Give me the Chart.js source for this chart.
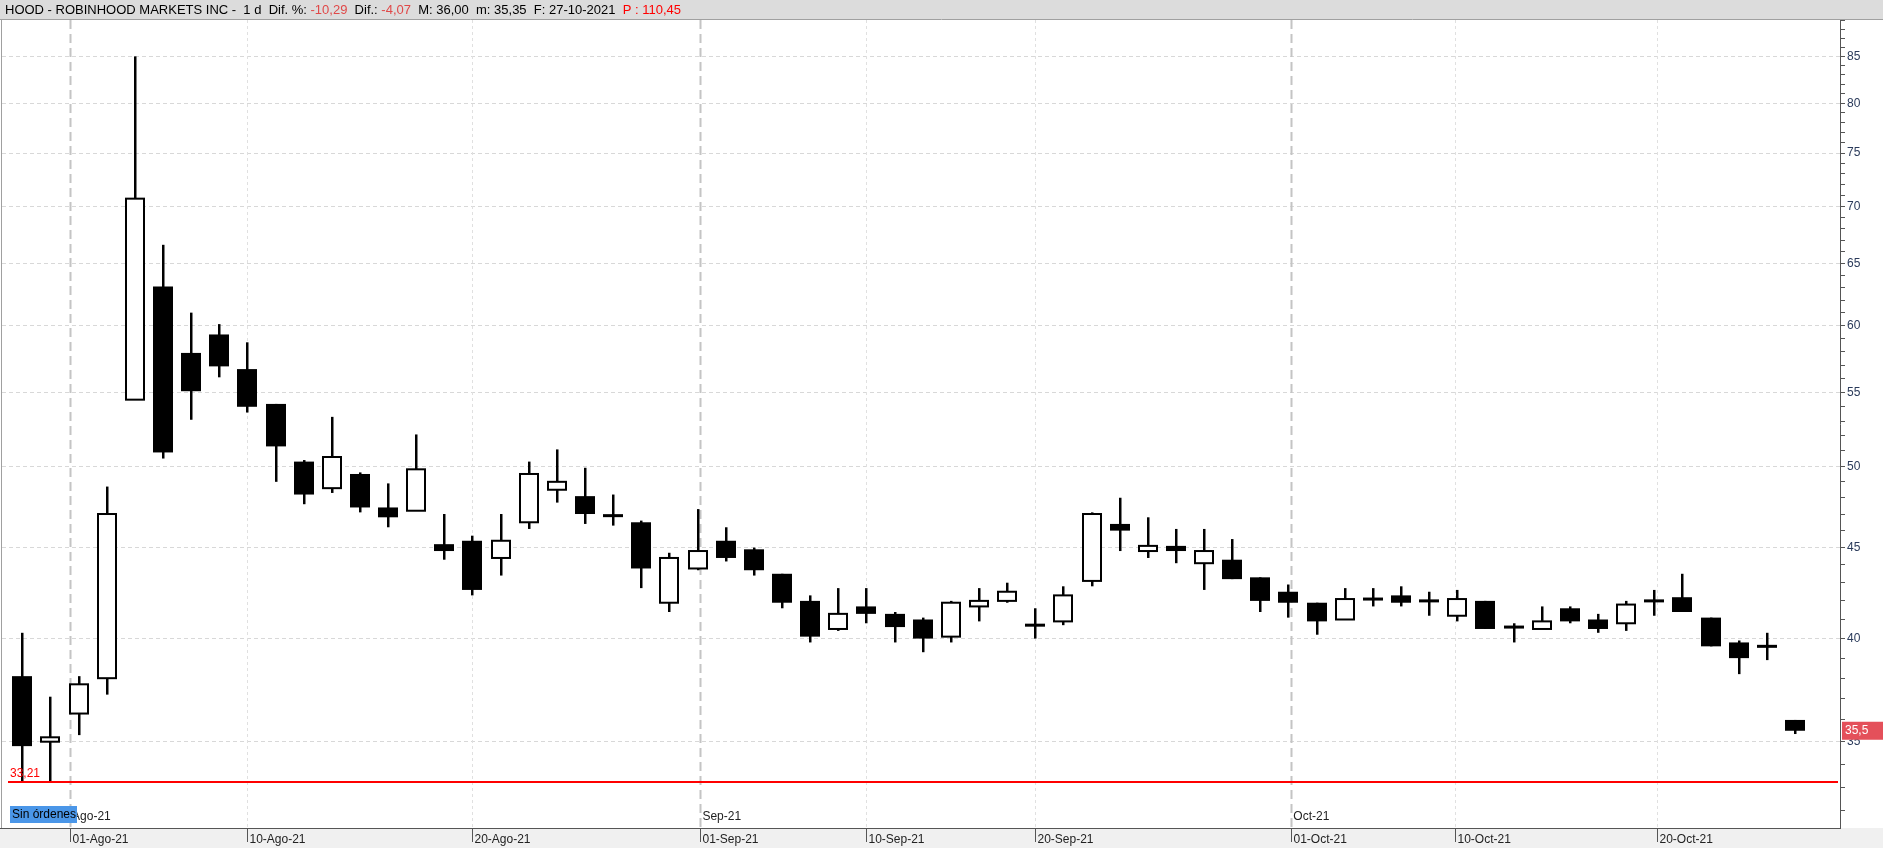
<!DOCTYPE html>
<html><head><meta charset="utf-8">
<script src="https://cdn.jsdelivr.net/npm/chart.js@4"></script>
<style>html,body{margin:0;padding:0;background:#fff;overflow:hidden}#w{width:1883px;height:848px}</style>
</head><body><div id="w"><canvas id="c"></canvas></div>
<script>
// date index of each trading day (Jul 29 .. Oct 27, 2021)
const dates = ["29-07","30-07","02-08","03-08","04-08","05-08","06-08","09-08","10-08","11-08","12-08","13-08","16-08","17-08","18-08","19-08","20-08","23-08","24-08","25-08","26-08","27-08","30-08","31-08","01-09","02-09","03-09","07-09","08-09","09-09","10-09","13-09","14-09","15-09","16-09","17-09","20-09","21-09","22-09","23-09","24-09","27-09","28-09","29-09","30-09","01-10","04-10","05-10","06-10","07-10","08-10","11-10","12-10","13-10","14-10","15-10","18-10","19-10","20-10","21-10","22-10","25-10","26-10","27-10"];
const opens = [38.1,35.0,36.3,38.0,54.5,63.1,57.9,59.3,56.7,54.2,50.3,48.6,49.5,47.4,47.2,45.2,45.4,44.4,46.5,48.5,48.1,46.9,46.5,41.9,43.8,45.4,44.9,43.5,42.0,40.5,41.7,41.3,41.0,40.1,41.7,42.0,40.7,40.9,43.1,46.4,44.8,45.1,44.1,44.3,43.3,42.5,41.9,41.0,42.1,42.3,42.0,41.2,42.0,40.6,40.5,41.6,41.0,40.8,42.0,42.2,41.1,39.8,39.6,36.0];
const highs = [40.3,37.1,38.1,48.7,85.0,66.6,61.0,60.1,58.7,54.2,50.4,53.3,49.6,48.9,52.1,47.0,45.7,47.0,50.3,51.1,49.9,48.2,46.6,44.7,47.3,46.2,45.0,43.5,42.3,42.7,42.7,41.4,41.1,42.0,42.7,43.0,41.6,42.8,47.1,48.0,46.8,46.1,46.1,45.5,43.3,42.9,41.9,42.7,42.7,42.8,42.5,42.6,42.0,40.8,41.7,41.7,41.3,42.0,42.6,43.5,41.1,39.9,40.3,36.0];
const lows = [33.2,33.2,35.3,37.2,54.5,50.5,53.1,56.1,53.6,49.0,47.6,48.3,47.1,46.2,47.3,44.3,42.3,43.4,46.1,47.7,46.4,46.3,42.7,41.4,43.7,44.2,43.4,41.6,39.8,40.4,40.8,39.8,39.3,39.8,40.9,41.9,40.0,40.7,42.8,44.8,44.4,44.1,42.6,43.2,41.4,41.1,40.2,41.0,41.7,41.7,41.2,40.9,40.5,39.8,40.5,40.8,40.3,40.4,41.2,41.4,39.6,38.2,38.9,35.35];
const closes = [34.8,35.2,37.7,47.0,70.7,50.9,55.1,56.9,54.0,51.3,48.2,50.6,47.4,46.8,49.8,44.8,42.6,45.4,49.5,49.0,47.0,46.9,43.8,44.4,44.8,44.4,43.7,41.9,40.1,41.3,41.3,40.6,40.0,41.9,42.0,42.5,40.7,42.3,47.0,46.0,45.1,44.8,44.8,43.2,42.0,41.9,40.9,42.1,42.1,41.9,42.0,42.1,40.5,40.6,40.9,40.9,40.5,41.8,42.0,41.4,39.6,39.0,39.6,35.5];
const xTickPos = [1.7, 8, 16, 24.1, 30, 36, 45.1, 50.9, 58.1];
const xTickLabels = ["01-Ago-21","10-Ago-21","20-Ago-21","01-Sep-21","10-Sep-21","20-Sep-21","01-Oct-21","10-Oct-21","20-Oct-21"];
const monthPos = [1.7, 24.1, 45.1];
const monthLabels = ["Ago-21","Sep-21","Oct-21"];
const yTicks = [35,40,45,50,55,60,65,70,75,80,85];
const supportLevel = 33.21;
const lastPrice = 35.5;

const FONT = '"Liberation Sans", Arial, sans-serif';

const deco = {
  id:'deco',
  beforeDraw(ch){
    const c=ch.ctx, a=ch.chartArea, W=ch.width, H=ch.height;
    c.save();
    c.fillStyle='#fff';c.fillRect(0,0,W,H);
    c.fillStyle='#f0f0f0';c.fillRect(0,a.bottom,W,H-a.bottom);
    c.fillStyle='#dcdcdc';c.fillRect(0,0,W,19);
    c.strokeStyle='#a0a0a0';c.lineWidth=1;c.beginPath();c.moveTo(0,19.5);c.lineTo(W,19.5);c.stroke();
    c.font='13px '+FONT;c.textBaseline='middle';
    let x=5;
    const parts=[["HOOD - ROBINHOOD MARKETS INC -  1 d  Dif. %: ","#000"],["-10,29","#e04848"],["  Dif.: ","#000"],["-4,07","#e04848"],["  M: 36,00  m: 35,35  F: 27-10-2021  ","#000"],["P : 110,45","#ff0000"]];
    for(const [t,col] of parts){c.fillStyle=col;c.fillText(t,x,10);x+=c.measureText(t).width;}
    c.strokeStyle='#a0a0a0';c.beginPath();c.moveTo(1.5,20);c.lineTo(1.5,a.bottom);c.stroke();
    c.restore();
  },
  beforeDatasetsDraw(ch){
    const c=ch.ctx,a=ch.chartArea,xs=ch.scales.x;
    c.save();
    xTickPos.forEach(p=>{
      const px=Math.round(xs.getPixelForValue(p))+0.5;
      const isMonth=monthPos.includes(p);
      c.strokeStyle=isMonth?'#c4c4c4':'#e0e0e0';c.lineWidth=isMonth?2:1;
      c.setLineDash(isMonth?[9,5]:[3,3]);
      c.beginPath();c.moveTo(px,a.top);c.lineTo(px,a.bottom);c.stroke();
    });
    c.restore();
  },
  afterDatasetsDraw(ch){
    const c=ch.ctx,a=ch.chartArea,xs=ch.scales.x,ys=ch.scales.y;
    c.save();
    const bw=20;
    for(let i=0;i<opens.length;i++){
      const px=Math.round(xs.getPixelForValue(i));
      const o=ys.getPixelForValue(opens[i]),cl=ys.getPixelForValue(closes[i]);
      const h=ys.getPixelForValue(highs[i]),l=ys.getPixelForValue(lows[i]);
      c.fillStyle='#000';
      c.fillRect(px-1,h,2.5,l-h);
      const top=Math.min(o,cl),bot=Math.max(o,cl);
      if(bot-top<3){c.fillRect(px-bw/2,(top+bot)/2-1.5,bw,3);continue;}
      if(closes[i]>opens[i]){
        c.fillStyle='#fff';c.fillRect(px-bw/2,top,bw,bot-top);
        c.strokeStyle='#000';c.lineWidth=2;c.strokeRect(px-bw/2+1,top,bw-2,bot-top);
      } else {
        c.fillRect(px-bw/2,top,bw,bot-top);
      }
    }
    const sy=Math.round(ys.getPixelForValue(supportLevel));
    c.strokeStyle='#ff0000';c.lineWidth=2;c.beginPath();c.moveTo(8,sy);c.lineTo(a.right-2,sy);c.stroke();
    c.fillStyle='#ff0000';c.font='12px '+FONT;c.textBaseline='bottom';c.fillText('33,21',10,sy-2);
    c.fillStyle='#222';c.textBaseline='bottom';
    monthPos.forEach((p,k)=>c.fillText(monthLabels[k],xs.getPixelForValue(p)+2,a.bottom-5));
    c.fillStyle='#4a96e8';c.fillRect(10,806,67,17);
    c.fillStyle='#000';c.textBaseline='middle';c.fillText('Sin órdenes',12,815);
    c.strokeStyle='#555';c.lineWidth=1;c.beginPath();c.moveTo(0,a.bottom+0.5);c.lineTo(a.right,a.bottom+0.5);c.stroke();
    c.fillStyle='#222';c.textBaseline='middle';
    xTickPos.forEach((p,k)=>{
      const px=Math.round(xs.getPixelForValue(p))+0.5;
      c.beginPath();c.moveTo(px,a.bottom);c.lineTo(px,a.bottom+14);c.stroke();
      c.fillText(xTickLabels[k],px+2,a.bottom+12);
    });
    const ly=ys.getPixelForValue(lastPrice);
    c.fillStyle='#e4505a';c.fillRect(a.right+2,ly-9,41,18);
    c.fillStyle='#fff';c.textBaseline='middle';c.fillText('35,5',a.right+5,ly);
    c.restore();
  }
};

new Chart(document.getElementById('c'),{
  type:'line',
  data:{datasets:[{data:closes.map((v,i)=>({x:i,y:v})),showLine:false,pointRadius:0}]},
  options:{
    responsive:true,maintainAspectRatio:false,animation:false,
    layout:{padding:{top:20,left:2,bottom:20,right:0}},
    plugins:{legend:{display:false},tooltip:{enabled:false}},
    scales:{
      x:{type:'linear',min:-0.72,max:64.6,display:false},
      y:{type:'logarithmic',position:'right',min:31.3,max:89.1,
        afterFit(s){s.width=43;},
        afterBuildTicks(s){const t=[];for(let v=32;v<=89;v++)t.push({value:v});s.ticks=t;},
        border:{color:'#555',width:1,dash:[4,3]},
        grid:{drawOnChartArea:true,tickLength:5,
          color:ctx=>(ctx.tick&&ctx.tick.value%5===0)?'#d8d8d8':'rgba(0,0,0,0)',
          tickColor:'#555'},
        ticks:{autoSkip:false,maxRotation:0,padding:2,color:'#2a3a5a',font:{size:12,family:FONT},
          callback:v=>(v%5===0)?String(v):''}
      }
    }
  },
  plugins:[deco]
});
</script></body></html>
